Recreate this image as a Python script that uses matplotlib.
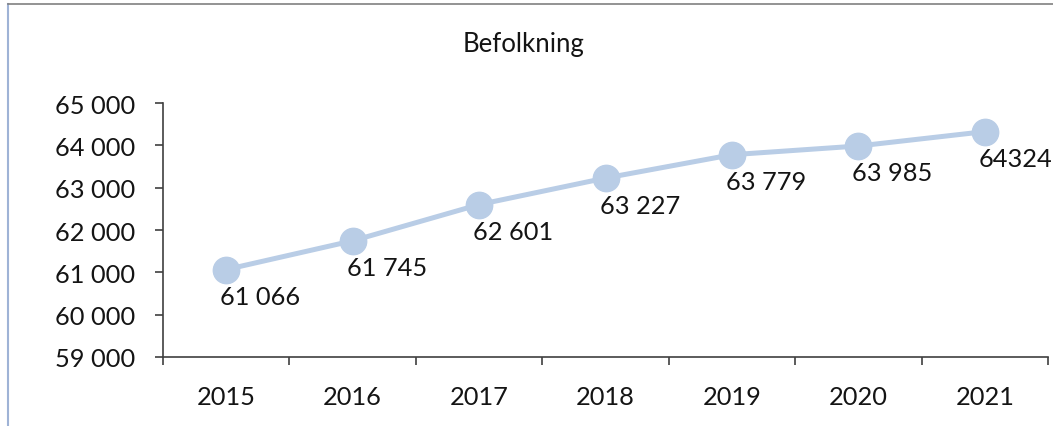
import matplotlib.pyplot as plt
from matplotlib.lines import Line2D
from matplotlib.ticker import FixedLocator, FuncFormatter

years = ["2015", "2016", "2017", "2018", "2019", "2020", "2021"]
population = [61066, 61745, 62601, 63227, 63779, 63985, 64324]
point_labels = ["61 066", "61 745", "62 601", "63 227", "63 779", "63 985", "64324"]
y_ticks = [59000, 60000, 61000, 62000, 63000, 64000, 65000]

plt.rcParams["font.family"] = ["Lato", "DejaVu Sans"]
text_color = "#141414"
line_color = "#b9cde6"
axis_color = "#404040"
fs = 18.3

fig = plt.figure(figsize=(10.53, 4.27), dpi=100)
ax = fig.add_axes([0.1548, 0.1616, 0.8405, 0.5948])

x = list(range(len(years)))
ax.plot(x, population, color=line_color, linewidth=3.6, marker="o",
        markersize=19, markerfacecolor=line_color, markeredgecolor=line_color,
        solid_capstyle="round", zorder=3)

for xi, val, lab in zip(x, population, point_labels):
    ax.annotate(lab, (xi, val), xytext=(-6, -27), textcoords="offset pixels",
                ha="left", va="center", fontsize=fs, color=text_color, zorder=4)

ax.set_xlim(-0.5, len(years) - 0.5)
ax.set_ylim(59000, 65000)
ax.yaxis.set_major_locator(FixedLocator(y_ticks))
ax.yaxis.set_major_formatter(FuncFormatter(lambda v, p: f"{int(v):,}".replace(",", " ")))

ax.set_xticks(x)
ax.set_xticklabels(years)
ax.xaxis.set_minor_locator(FixedLocator([i - 0.5 for i in range(len(years) + 1)]))
ax.tick_params(axis="x", which="major", length=0, pad=20, labelsize=fs,
               labelcolor=text_color)
ax.tick_params(axis="x", which="minor", length=6, width=1.2, color=axis_color,
               direction="out")
ax.tick_params(axis="y", length=6, width=1.2, color=axis_color, pad=14,
               labelsize=fs, labelcolor=text_color)

for side in ("top", "right"):
    ax.spines[side].set_visible(False)
for side in ("left", "bottom"):
    ax.spines[side].set_color(axis_color)
    ax.spines[side].set_linewidth(1.2)

fig.text(0.4975, 0.895, "Befolkning", ha="center", va="center",
         fontsize=18.5, color=text_color)

# outer frame edges
fig.add_artist(Line2D([8 / 1053, 8 / 1053], [0, 1 - 5 / 427],
                      transform=fig.transFigure, color="#9fb3d6", linewidth=1.5))
fig.add_artist(Line2D([8 / 1053, 1], [1 - 5 / 427, 1 - 5 / 427],
                      transform=fig.transFigure, color="#808080", linewidth=1.2))

fig.savefig("out.png", dpi=100)
